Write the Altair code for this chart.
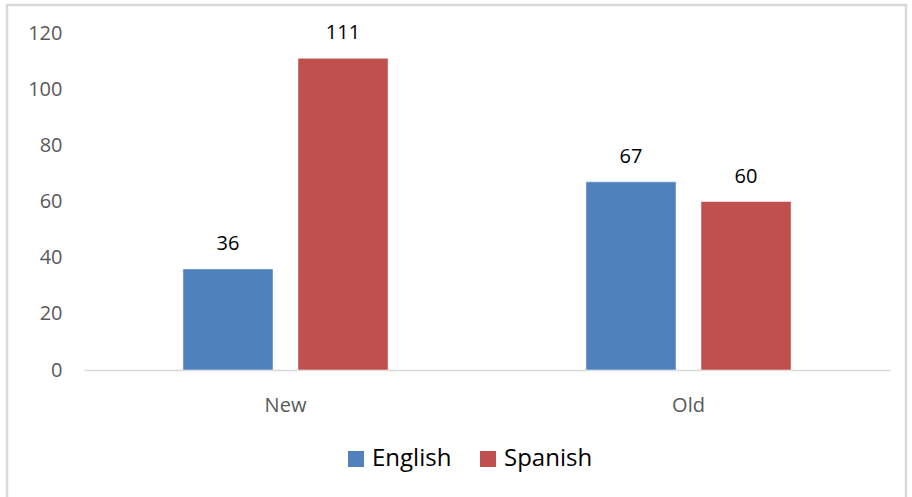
import altair as alt
import pandas as pd

categories = ["New", "New", "Old", "Old"]
languages = ["English", "Spanish", "English", "Spanish"]
values = [36, 111, 67, 60]

df = pd.DataFrame({"cat": categories, "lang": languages, "value": values})

FONT = "Open Sans"
W, H = 806, 337

x = alt.X("cat:N", title=None,
          scale=alt.Scale(paddingInner=0.491, paddingOuter=0.2455),
          axis=alt.Axis(labelAngle=0, ticks=False, domainColor="#d9d9d9", domainWidth=1.5,
                        labelColor="#595959", labelFontSize=20, labelFont=FONT,
                        labelPadding=25))
xoff = alt.XOffset("lang:N", scale=alt.Scale(paddingInner=0.217, paddingOuter=0))
y = alt.Y("value:Q", title=None,
          scale=alt.Scale(domain=[0, 120], nice=False),
          axis=alt.Axis(values=[0, 20, 40, 60, 80, 100, 120], grid=False, domain=False, ticks=False,
                        labelColor="#595959", labelFontSize=20, labelFont=FONT, labelPadding=22))

color = alt.Color("lang:N", title=None,
                  scale=alt.Scale(domain=["English", "Spanish"], range=["#4F81BD", "#C0504D"]),
                  legend=alt.Legend(orient="none", direction="horizontal", legendX=260, legendY=414,
                                    symbolType="square", symbolSize=256, symbolStrokeWidth=0,
                                    labelFontSize=24, labelFont=FONT, labelColor="#000000",
                                    columnPadding=24, labelOffset=4))

bars = alt.Chart(df).mark_bar(stroke="white", strokeWidth=0.5).encode(x=x, xOffset=xoff, y=y, color=color)

labels = alt.Chart(df).mark_text(baseline="alphabetic", dy=-19, fontSize=20, font=FONT, color="#000000").encode(
    x=x, xOffset=xoff, y=y, text="value:Q")

border = alt.Chart(pd.DataFrame({"a": [0]})).mark_rect(fill=None, stroke="#d9d9d9", strokeWidth=2.5).encode(
    x=alt.value(-77), x2=alt.value(822), y=alt.value(-28), y2=alt.value(470))

chart = alt.layer(border, bars, labels).properties(
    width=W, height=H,
    background="white",
    autosize=alt.AutoSizeParams(type="none"),
    padding={"left": 84, "top": 33, "right": 22, "bottom": 127},
).configure_view(strokeWidth=0, stroke=None)

chart.save("out.html", embed_options={"renderer": "svg", "actions": False})
